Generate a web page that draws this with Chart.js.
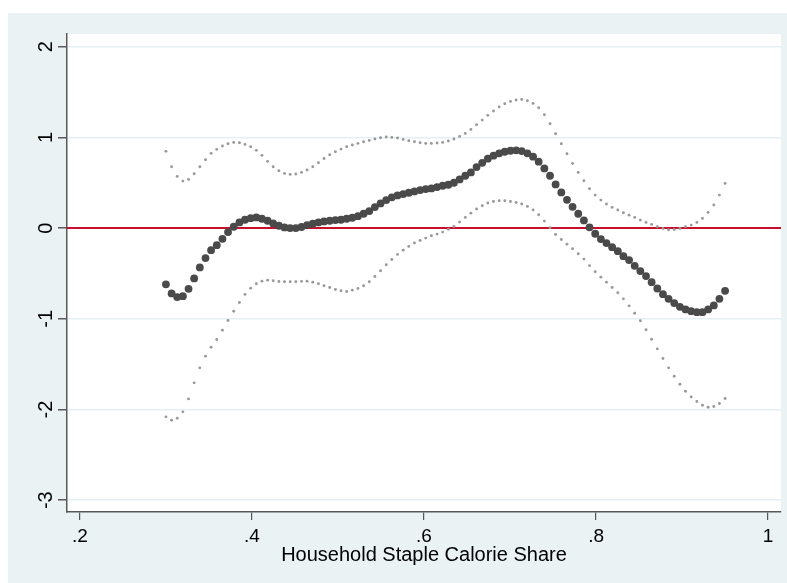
<!DOCTYPE html>
<html>
<head>
<meta charset="utf-8">
<script src="https://cdn.jsdelivr.net/npm/chart.js@4"></script>
<style>
  html, body { margin: 0; padding: 0; background: #fff; }
  canvas { display: block; }
</style>
</head>
<body>
<canvas id="chart" width="787" height="583"></canvas>
<script>
// grid of staple calorie shares
const shares = [
  0.3000, 0.3066, 0.3131, 0.3197, 0.3263, 0.3328, 0.3394, 0.3460, 0.3525, 0.3591,
  0.3657, 0.3722, 0.3788, 0.3854, 0.3919, 0.3985, 0.4051, 0.4116, 0.4182, 0.4247,
  0.4313, 0.4379, 0.4444, 0.4510, 0.4576, 0.4641, 0.4707, 0.4773, 0.4838, 0.4904,
  0.4970, 0.5035, 0.5101, 0.5167, 0.5232, 0.5298, 0.5364, 0.5429, 0.5495, 0.5561,
  0.5626, 0.5692, 0.5758, 0.5823, 0.5889, 0.5955, 0.6020, 0.6086, 0.6152, 0.6217,
  0.6283, 0.6348, 0.6414, 0.6480, 0.6545, 0.6611, 0.6677, 0.6742, 0.6808, 0.6874,
  0.6939, 0.7005, 0.7071, 0.7136, 0.7202, 0.7268, 0.7333, 0.7399, 0.7465, 0.7530,
  0.7596, 0.7662, 0.7727, 0.7793, 0.7859, 0.7924, 0.7990, 0.8056, 0.8121, 0.8187,
  0.8253, 0.8318, 0.8384, 0.8449, 0.8515, 0.8581, 0.8646, 0.8712, 0.8778, 0.8843,
  0.8909, 0.8975, 0.9040, 0.9106, 0.9172, 0.9237, 0.9303, 0.9369, 0.9434, 0.9500
];

// point estimate
const estimate = [
  -0.620, -0.720, -0.760, -0.750, -0.670, -0.555, -0.434, -0.331, -0.243, -0.188,
  -0.118, -0.044, 0.015, 0.063, 0.092, 0.110, 0.118, 0.103, 0.081, 0.052,
  0.026, 0.007, 0.000, 0.000, 0.012, 0.033, 0.048, 0.063, 0.074, 0.081,
  0.088, 0.092, 0.103, 0.114, 0.132, 0.158, 0.188, 0.232, 0.272, 0.309,
  0.339, 0.360, 0.375, 0.390, 0.404, 0.419, 0.430, 0.437, 0.452, 0.467,
  0.478, 0.500, 0.537, 0.577, 0.614, 0.673, 0.720, 0.765, 0.798, 0.824,
  0.842, 0.853, 0.857, 0.849, 0.824, 0.787, 0.732, 0.658, 0.577, 0.482,
  0.393, 0.312, 0.235, 0.158, 0.085, 0.009, -0.062, -0.121, -0.165, -0.210,
  -0.254, -0.309, -0.353, -0.416, -0.474, -0.529, -0.596, -0.666, -0.728, -0.780,
  -0.827, -0.868, -0.897, -0.916, -0.927, -0.927, -0.897, -0.853, -0.780, -0.691
];

// upper confidence band
const upper = [
  0.846, 0.677, 0.570, 0.518, 0.537, 0.599, 0.677, 0.754, 0.824, 0.868,
  0.905, 0.930, 0.945, 0.941, 0.923, 0.897, 0.857, 0.802, 0.736, 0.677,
  0.632, 0.603, 0.592, 0.596, 0.614, 0.640, 0.677, 0.720, 0.768, 0.809,
  0.842, 0.871, 0.897, 0.916, 0.934, 0.952, 0.967, 0.982, 0.996, 1.004,
  1.000, 0.993, 0.978, 0.963, 0.952, 0.941, 0.934, 0.934, 0.938, 0.945,
  0.960, 0.982, 1.011, 1.044, 1.088, 1.140, 1.191, 1.243, 1.291, 1.335,
  1.371, 1.397, 1.412, 1.419, 1.404, 1.375, 1.327, 1.250, 1.151, 1.040,
  0.930, 0.820, 0.713, 0.614, 0.522, 0.434, 0.364, 0.309, 0.265, 0.228,
  0.199, 0.169, 0.143, 0.118, 0.088, 0.063, 0.041, 0.015, -0.004, -0.018,
  -0.015, -0.004, 0.015, 0.033, 0.063, 0.107, 0.173, 0.254, 0.364, 0.493
];

// lower confidence band
const lower = [
  -2.081, -2.118, -2.096, -2.026, -1.883, -1.706, -1.541, -1.412, -1.313, -1.228,
  -1.125, -1.018, -0.916, -0.820, -0.731, -0.662, -0.614, -0.585, -0.574, -0.581,
  -0.588, -0.592, -0.592, -0.592, -0.587, -0.585, -0.596, -0.614, -0.636, -0.655,
  -0.677, -0.691, -0.699, -0.684, -0.666, -0.636, -0.592, -0.533, -0.471, -0.404,
  -0.346, -0.290, -0.243, -0.202, -0.165, -0.136, -0.110, -0.085, -0.066, -0.044,
  -0.013, 0.018, 0.066, 0.118, 0.165, 0.210, 0.246, 0.276, 0.294, 0.301,
  0.301, 0.294, 0.283, 0.265, 0.239, 0.199, 0.147, 0.077, 0.004, -0.070,
  -0.125, -0.177, -0.228, -0.283, -0.342, -0.414, -0.482, -0.541, -0.596, -0.655,
  -0.713, -0.780, -0.857, -0.938, -1.022, -1.121, -1.225, -1.331, -1.438, -1.541,
  -1.633, -1.721, -1.798, -1.861, -1.912, -1.953, -1.975, -1.967, -1.934, -1.879
];

const xTickValues = [0.2, 0.4, 0.6, 0.8, 1];
const xTickLabels = ['.2', '.4', '.6', '.8', '1'];
const yTickValues = [-3, -2, -1, 0, 1, 2];
const yTickLabels = ['-3', '-2', '-1', '0', '1', '2'];
const xTitle = 'Household Staple Calorie Share';

const X_MIN = 0.185, X_MAX = 1.015;
const Y_MIN = -3.13, Y_MAX = 2.14;
const FONT = '"Liberation Sans", Arial, Helvetica, sans-serif';
const BG = '#eaf2f3';
const AXIS = '#585858';

const toPoints = (ys) => shares.map((x, i) => ({ x: x, y: ys[i] }));

// backgrounds and hand-drawn labels (rotated y labels, axis title)
const stataLook = {
    id: 'stataLook',
    beforeDraw(chart) {
        const { ctx, chartArea: a } = chart;
        ctx.save();
        ctx.fillStyle = '#fff';
        ctx.fillRect(0, 0, chart.width, chart.height);
        ctx.fillStyle = BG;
        ctx.fillRect(8, 13, chart.width - 8, chart.height - 13);
        ctx.fillStyle = '#fff';
        ctx.fillRect(a.left, a.top, a.right - a.left, a.bottom - a.top);
        ctx.restore();
    },
    afterDraw(chart) {
        const { ctx, chartArea: a } = chart;
        const xs = chart.scales.x, ys = chart.scales.y;
        ctx.save();
        ctx.fillStyle = '#000';
        ctx.font = '19px ' + FONT;
        ctx.textAlign = 'center';
        ctx.textBaseline = 'alphabetic';
        xTickValues.forEach((v, i) => {
            ctx.fillText(xTickLabels[i], xs.getPixelForValue(v), 542);
        });
        ctx.font = '20px ' + FONT;
        yTickValues.forEach((v, i) => {
            ctx.save();
            ctx.translate(51.5, ys.getPixelForValue(v));
            ctx.rotate(-Math.PI / 2);
            ctx.fillText(yTickLabels[i], 0, 0);
            ctx.restore();
        });
        ctx.font = '20px ' + FONT;
        ctx.fillText(xTitle, (a.left + a.right) / 2, 561);
        ctx.restore();
    }
};

new Chart(document.getElementById('chart').getContext('2d'), {
    type: 'scatter',
    data: {
        datasets: [
            {
                label: 'estimate',
                data: toPoints(estimate),
                pointRadius: 3.9,
                pointBackgroundColor: '#4a4a4a',
                pointBorderWidth: 0,
                showLine: false
            },
            {
                label: 'upper',
                data: toPoints(upper),
                pointRadius: 1.45,
                pointBackgroundColor: '#999999',
                pointBorderWidth: 0,
                showLine: false
            },
            {
                label: 'lower',
                data: toPoints(lower),
                pointRadius: 1.45,
                pointBackgroundColor: '#999999',
                pointBorderWidth: 0,
                showLine: false
            },
            {
                type: 'line',
                label: 'zero',
                data: [{ x: X_MIN, y: 0 }, { x: X_MAX, y: 0 }],
                borderColor: '#c8102e',
                borderWidth: 2,
                pointRadius: 0,
                fill: false
            }
        ]
    },
    options: {
        responsive: false,
        animation: false,
        devicePixelRatio: 1,
        layout: { padding: { left: 0, top: 34, right: 6, bottom: 0 } },
        plugins: {
            legend: { display: false },
            tooltip: { enabled: false }
        },
        scales: {
            x: {
                type: 'linear',
                min: X_MIN,
                max: X_MAX,
                afterBuildTicks: (s) => { s.ticks = xTickValues.map(v => ({ value: v })); },
                afterFit: (s) => { s.height = 71; },
                ticks: { display: false },
                grid: {
                    drawOnChartArea: false,
                    drawTicks: true,
                    tickLength: 8,
                    tickColor: AXIS,
                    lineWidth: 1.2
                },
                border: { display: true, color: AXIS, width: 1.5 }
            },
            y: {
                type: 'linear',
                min: Y_MIN,
                max: Y_MAX,
                afterBuildTicks: (s) => { s.ticks = yTickValues.map(v => ({ value: v })); },
                afterFit: (s) => { s.width = 67; },
                ticks: { display: false },
                grid: {
                    color: '#e6eff1',
                    lineWidth: 1.5,
                    drawTicks: true,
                    tickLength: 9,
                    tickColor: AXIS
                },
                border: { display: true, color: AXIS, width: 1.5 }
            }
        }
    },
    plugins: [stataLook]
});
</script>
</body>
</html>
